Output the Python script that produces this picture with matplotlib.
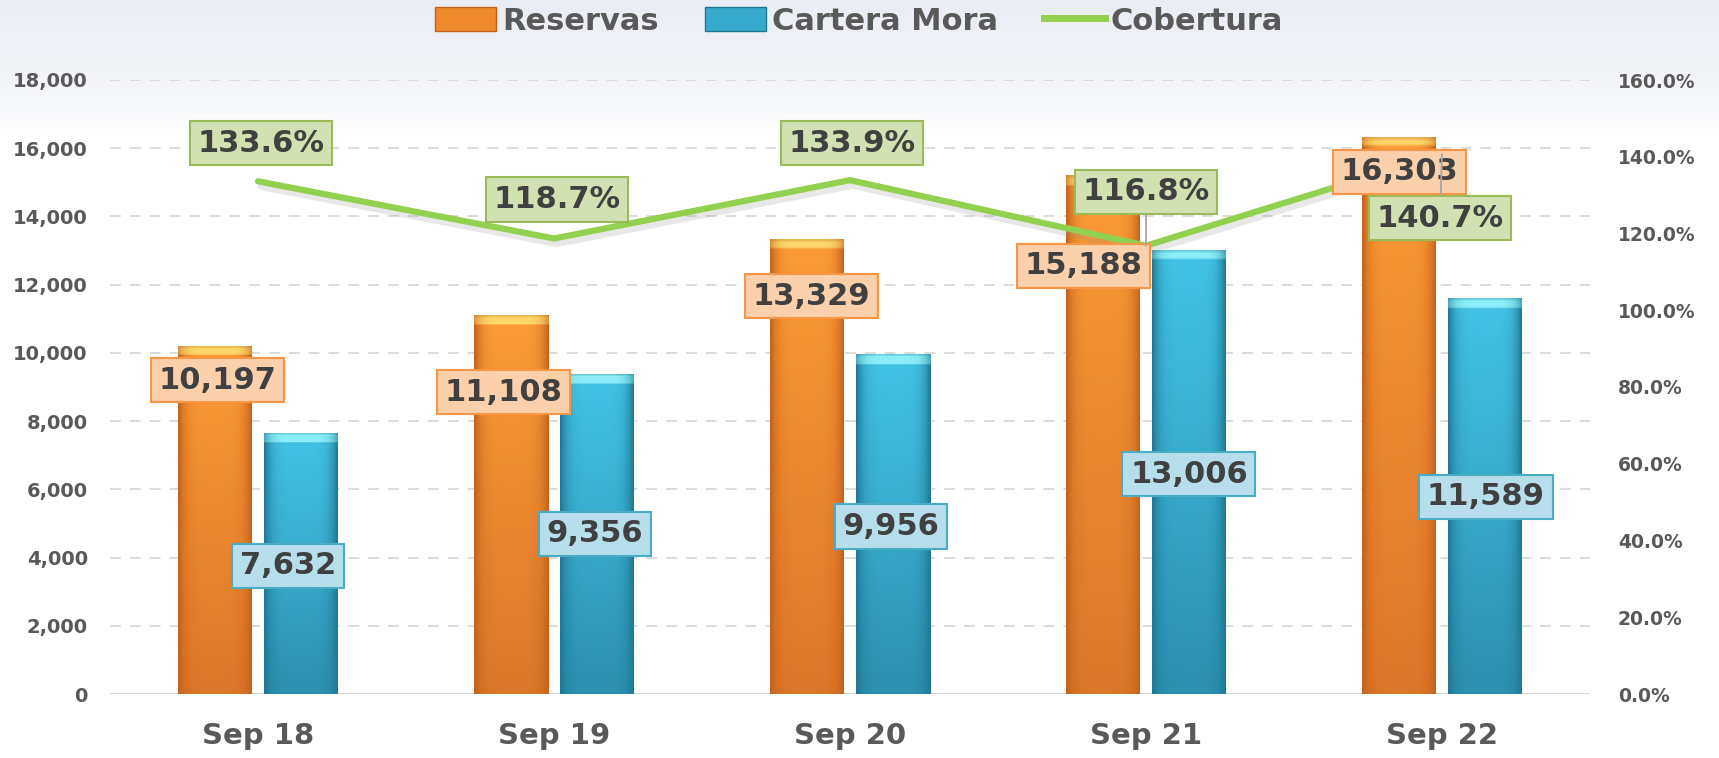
import numpy as np
import matplotlib
matplotlib.use("Agg")
import matplotlib.pyplot as plt
import matplotlib.patheffects as pe
from matplotlib.colors import to_rgb
from matplotlib.patches import Patch
from matplotlib.lines import Line2D

# data
periods = ["Sep 18", "Sep 19", "Sep 20", "Sep 21", "Sep 22"]
reservas = [10197, 11108, 13329, 15188, 16303]
cartera_mora = [7632, 9356, 9956, 13006, 11589]
cobertura = [133.6, 118.7, 133.9, 116.8, 140.7]
left_ticks = list(range(0, 18001, 2000))
right_ticks = list(range(0, 161, 20))

# label offsets (pixels from the data point), copied from the reference layout
res_off = [(2, -34), (-8, -77), (4, -57), (-20, -90), (0, -34)]
mora_off = [(-13, -132), (-2, -159), (-2, -172), (0, -224), (1, -198)]
cob_off = [(3, 38), (3, 39), (2, 37), (0, 54), (-2, -64)]
cob_leader = [False, False, False, True, True]

GRAY = "#595959"
TXT = "#404040"

fig = plt.figure(figsize=(17.19, 7.58), dpi=100)
fig.patch.set_facecolor("white")

# faint tinted band at the top of the figure
bg = fig.add_axes([0, 0, 1, 1], zorder=-10)
bg.axis("off")
rows = np.linspace(1, 0, 400)[:, None]
fade = np.clip((rows - 0.82) / 0.18, 0, 1) ** 0.7
tint = np.array(to_rgb("#eaedf4"))
img = (1 - fade)[..., None] * np.ones(3) + fade[..., None] * tint
bg.imshow(np.repeat(img, 2, axis=1), extent=(0, 1, 0, 1), aspect="auto")
bg.set_xlim(0, 1)
bg.set_ylim(0, 1)

ax1 = fig.add_axes([110 / 1719, 1 - 694 / 758, 1480 / 1719, 614 / 758])
ax1.set_facecolor("none")
ax2 = ax1.twinx()

x = np.arange(len(periods))
w = 0.25
off = 0.145
bars_r = ax1.bar(x - off, reservas, w, color="none", zorder=3)
bars_m = ax1.bar(x + off, cartera_mora, w, color="none", zorder=3)


def shade(ax, patch, top, bot, cap, edge):
    x0, y0 = patch.get_xy()
    bw, bh = patch.get_width(), patch.get_height()
    n, m = 200, 60
    v = np.linspace(0, 1, n)[:, None, None]
    u = np.linspace(0, 1, m)[None, :, None]
    top, bot, cap, edge = [np.array(to_rgb(c)) for c in (top, bot, cap, edge)]
    body = top * (1 - v) + bot * v
    k = np.abs(2 * u - 1) ** 5
    body = body * (1 - k) + edge * k
    body = np.broadcast_to(body, (n, m, 3)).copy()
    cap_rows = int(round(n * 280 / bh))
    if cap_rows > 0:
        body[:cap_rows] = cap * (1 - k[0] * 0.6) + edge * (k[0] * 0.6)
        body[:max(1, cap_rows // 4)] = body[:max(1, cap_rows // 4)] * 0.7 + edge * 0.3
    ax.imshow(body, extent=(x0, x0 + bw, y0, y0 + bh), aspect="auto",
              interpolation="bilinear", zorder=3)


for p in bars_r:
    shade(ax1, p, "#fc9b36", "#dc7628", "#fed86a", "#c4621b")
for p in bars_m:
    shade(ax1, p, "#42c4e7", "#2c90b0", "#8ceefb", "#1f7892")

ax1.set_xlim(-0.5, len(periods) - 0.5)
ax1.set_ylim(0, 18000)
ax2.set_ylim(0, 160)

ax1.set_yticks(left_ticks)
ax1.set_yticklabels([f"{t:,}" for t in left_ticks])
ax2.set_yticks(right_ticks)
ax2.set_yticklabels([f"{t:.1f}%" for t in right_ticks])
ax1.set_xticks(x)
ax1.set_xticklabels(periods)

ax1.yaxis.grid(True, linestyle=(0, (6, 5)), color="#d9d9d9", lw=1.3)
ax1.set_axisbelow(True)
ax1.axhline(0, color="#d9d9d9", lw=2.2, zorder=1)

for a in (ax1, ax2):
    for s in a.spines.values():
        s.set_visible(False)
ax1.tick_params(axis="y", length=0, pad=16, labelsize=14, labelcolor=GRAY)
ax2.tick_params(axis="y", length=0, pad=20, labelsize=13.5, labelcolor=GRAY)
ax1.tick_params(axis="x", length=0, pad=20, labelsize=21, labelcolor=GRAY)
for lab in ax1.get_yticklabels() + ax2.get_yticklabels() + ax1.get_xticklabels():
    lab.set_fontweight("bold")

ax2.plot(x, cobertura, color="#92d050", lw=4.5, solid_capstyle="round", zorder=2,
         path_effects=[pe.SimpleLineShadow(offset=(2, -4), shadow_color="#909090", alpha=0.2),
                       pe.Normal()])

lbl = dict(fontsize=22, fontweight="bold", color=TXT, ha="center", va="center",
           textcoords="offset pixels", zorder=6)

for i in range(len(periods)):
    ax2.annotate(f"{reservas[i]:,}", xy=(x[i] - off, reservas[i]), xycoords=ax1.transData,
                 xytext=res_off[i],
                 bbox=dict(boxstyle="square,pad=0.25", fc="#fbd0ab", ec="#f79646", lw=1.5), **lbl)
for i in range(len(periods)):
    ax2.annotate(f"{cartera_mora[i]:,}", xy=(x[i] + off, cartera_mora[i]), xycoords=ax1.transData,
                 xytext=mora_off[i],
                 bbox=dict(boxstyle="square,pad=0.25", fc="#b6deeb", ec="#4bacc6", lw=1.5), **lbl)
for i in range(len(periods)):
    arrow = None
    if cob_leader[i]:
        arrow = dict(arrowstyle="-", color="#a6a6a6", lw=1.3, shrinkA=0, shrinkB=0)
    ax2.annotate(f"{cobertura[i]:.1f}%", xy=(x[i], cobertura[i]), xytext=cob_off[i],
                 arrowprops=arrow,
                 bbox=dict(boxstyle="square,pad=0.25", fc="#d2e1b2", ec="#9bbb59", lw=1.5), **lbl)

handles = [Patch(facecolor="#f08a2c", edgecolor="#c4621b"),
           Patch(facecolor="#36aacd", edgecolor="#1f7892"),
           Line2D([], [], color="#92d050", lw=5)]
leg = fig.legend(handles, ["Reservas", "Cartera Mora", "Cobertura"], loc="center",
                 bbox_to_anchor=(859 / 1719, 1 - 21 / 758), ncol=3, frameon=False,
                 prop=dict(size=22, weight="bold"), handlelength=2.0, handleheight=0.8,
                 handletextpad=0.2, columnspacing=1.5, labelcolor=GRAY)

fig.savefig("out.png", dpi=100)
